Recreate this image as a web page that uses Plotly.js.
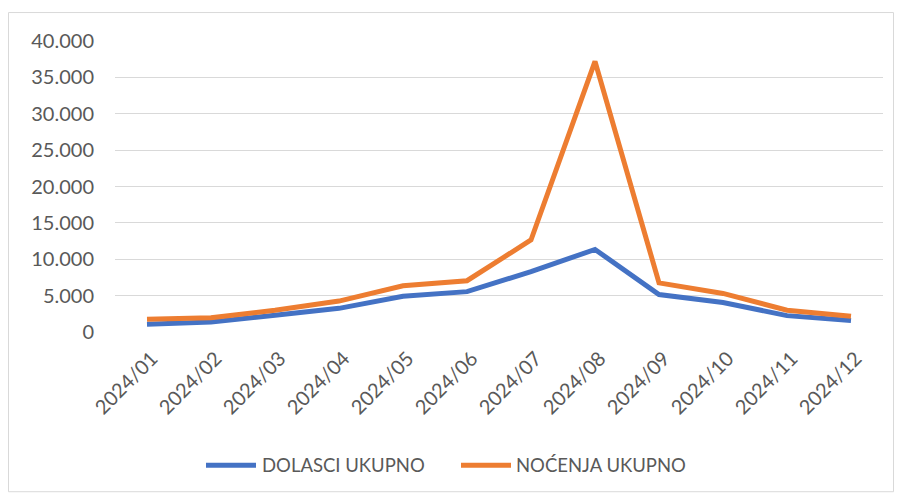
<!DOCTYPE html>
<html>
<head>
<meta charset="utf-8">
<script src="https://cdn.plot.ly/plotly-3.0.1.min.js"></script>
<style>html,body{margin:0;padding:0;background:#fff;}#chart{width:898px;height:495px;}</style>
</head>
<body>
<div id="chart"></div>
<script>
const months = ["2024/01","2024/02","2024/03","2024/04","2024/05","2024/06","2024/07","2024/08","2024/09","2024/10","2024/11","2024/12"];
const dolasci = [1050, 1370, 2300, 3250, 4900, 5550, 8300, 11350, 5150, 4050, 2250, 1580];
const nocenja = [1750, 1950, 3000, 4250, 6350, 7050, 12650, 37200, 6750, 5300, 3000, 2150];
const seriesNames = ["DOLASCI UKUPNO", "NOĆENJA UKUPNO"];
const seriesColors = ["#4472C4", "#ED7D31"];
const yTicks = [0, 5000, 10000, 15000, 20000, 25000, 30000, 35000, 40000];
const yTickText = ["0","5.000","10.000","15.000","20.000","25.000","30.000","35.000","40.000"];

const W = 898, H = 495, L = 115, R = 15, T = 41, B = 162.5;
const pw = W - L - R, ph = H - T - B;
const px = v => (v - L) / pw;
const py = v => (H - B - v) / ph;

const fam = "Lato, 'Open Sans', sans-serif";
const font = {family: fam, size: 20, color: "#595959"};

// custom legend (long line symbols like the reference)
const legY = py(466);
const legItems = [{x0: 206, x1: 256, tx: 260}, {x0: 461, x1: 511, tx: 514}];
const shapes = [{type: "rect", xref: "paper", yref: "paper",
  x0: px(8.5), x1: px(893.5), y0: py(492.5), y1: py(12.5),
  line: {color: "#d9d9d9", width: 1}, fillcolor: "rgba(0,0,0,0)", layer: "below"}];
const annotations = [];
legItems.forEach((it, i) => {
  shapes.push({type: "line", xref: "paper", yref: "paper", x0: px(it.x0), x1: px(it.x1), y0: legY, y1: legY,
    line: {color: seriesColors[i], width: 5}});
  annotations.push({xref: "paper", yref: "paper", x: px(it.tx), y: legY, xanchor: "left", yanchor: "middle",
    text: seriesNames[i], showarrow: false, font: {family: fam, size: 18.5, color: "#595959"}});
});

Plotly.newPlot("chart", [
  {x: months, y: dolasci, name: seriesNames[0], type: "scatter", mode: "lines",
   line: {color: seriesColors[0], width: 5, shape: "linear"}},
  {x: months, y: nocenja, name: seriesNames[1], type: "scatter", mode: "lines",
   line: {color: seriesColors[1], width: 5, shape: "linear"}}
], {
  width: W, height: H,
  margin: {l: L, r: R, t: T, b: B, pad: 0, autoexpand: false},
  paper_bgcolor: "#fff", plot_bgcolor: "#fff",
  font: font,
  showlegend: false,
  xaxis: {type: "category", range: [-0.5, 11.5], showgrid: false, zeroline: false, automargin: false,
          showline: false, ticks: "", tickangle: -45, tickfont: font, fixedrange: true,
          ticklabelstandoff: 10, ticklabelshift: 5},
  yaxis: {range: [0, 40000], tickvals: yTicks, ticktext: yTickText, showgrid: true, automargin: false,
          gridcolor: "#d9d9d9", gridwidth: 1, zeroline: false, showline: false,
          ticks: "", ticklen: 0, tickfont: font, fixedrange: true, ticklabelstandoff: 20},
  shapes: shapes,
  annotations: annotations
}, {displayModeBar: false, staticPlot: true});
</script>
</body>
</html>
